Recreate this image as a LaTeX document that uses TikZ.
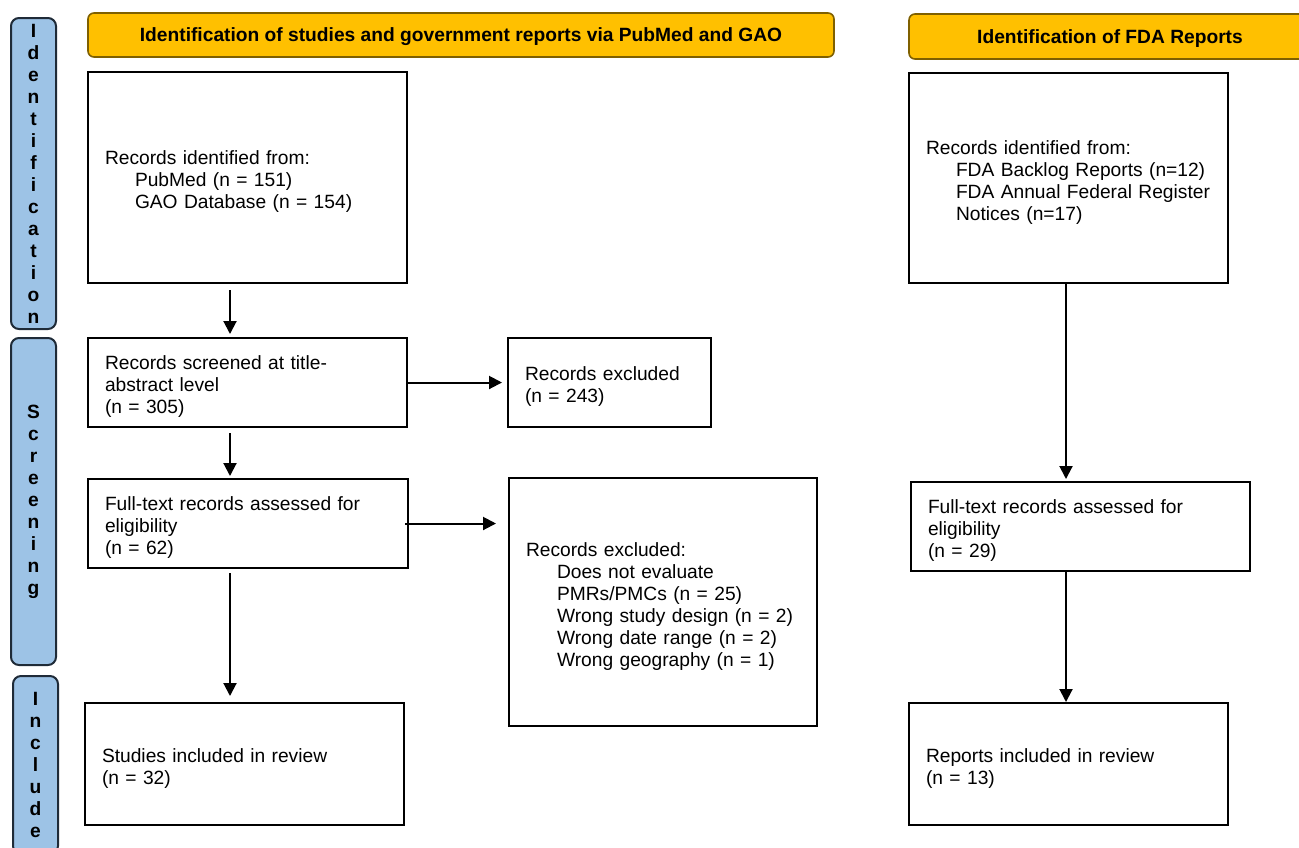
\documentclass[tikz,border=0pt]{standalone}
\usepackage{fontspec}
\setmainfont{Liberation Sans}
\usepackage{xcolor}
\usetikzlibrary{arrows.meta}
\definecolor{headfill}{HTML}{FFC000}
\definecolor{headline}{HTML}{7F6000}
\definecolor{tabfill}{HTML}{9DC3E6}
\definecolor{tabline}{HTML}{1F2B38}

\begin{document}
\begin{tikzpicture}[x=0.5pt,y=-0.5pt,>={Triangle[length=6.5pt,width=6.5pt]},
 font=\fontsize{9.6}{11}\selectfont,
 rec/.style={draw,line width=1pt,align=left,inner xsep=8.5pt,inner ysep=0pt,execute at begin node={\rule{0pt}{11pt}}},
 head/.style={draw=headline,fill=headfill,line width=0.8pt,rounded corners=3pt,text height=6.9pt,text depth=0pt,font=\fontsize{9.6}{11}\selectfont\bfseries},
 tab/.style={draw=tabline,fill=tabfill,line width=1pt,rounded corners=4pt,minimum width=22.5pt,align=center,inner sep=0pt,font=\fontsize{9.6}{11}\selectfont\bfseries},
 arr/.style={->,line width=1pt}]
 \useasboundingbox (0,0) rectangle (1299,847);
 \clip (0,0) rectangle (1299,847);
 % phase tabs
 \node[tab,minimum height=155.5pt] (tabid) at (33.5,173.5) {I\\d\\e\\n\\t\\i\\f\\i\\c\\a\\t\\i\\o\\n};
 \node[tab,minimum height=163.5pt] (tabscr) at (33.5,501.5) {S\\c\\r\\e\\e\\n\\i\\n\\g};
 \node[tab,minimum height=89pt] (tabinc) at (35.5,765) {I\\n\\c\\l\\u\\d\\e};
 % headers
 \node[head,minimum width=373pt,minimum height=22pt] (hdpm) at (461,35) {Identification of studies and government reports via PubMed and GAO};
 \node[head,minimum width=201pt,minimum height=22.5pt] (hdfda) at (1110,36.5) {Identification of FDA Reports};
 % PubMed / GAO column
 \node[rec,minimum width=159.5pt,minimum height=105.5pt,text width=142.5pt] (pmid) at (247.5,177.5)
  {Records identified from:\\\hspace*{15pt}PubMed (n = 151)\\\hspace*{15pt}GAO Database (n = 154)};
 \node[rec,minimum width=159.5pt,minimum height=44.5pt,text width=142.5pt] (pmscr) at (247.5,382.5)
  {Records screened at title-\\abstract level\\(n = 305)};
 \node[rec,minimum width=160pt,minimum height=44.5pt,text width=143pt] (pmft) at (248,523.5)
  {Full-text records assessed for\\eligibility\\(n = 62)};
 \node[rec,minimum width=159.5pt,minimum height=61pt,text width=142.5pt] (pmincl) at (244.5,764)
  {Studies included in review\\(n = 32)};
 \node[rec,minimum width=101.5pt,minimum height=44.5pt,text width=84.5pt] (pmexa) at (609.5,382.5)
  {Records excluded\\(n = 243)};
 \node[rec,minimum width=154pt,minimum height=124pt,text width=137pt] (pmexb) at (663,602)
  {Records excluded:\\\hspace*{15.5pt}Does not evaluate\\\hspace*{15.5pt}PMRs/PMCs (n = 25)\\\hspace*{15.5pt}Wrong study design (n = 2)\\\hspace*{15.5pt}Wrong date range (n = 2)\\\hspace*{15.5pt}Wrong geography (n = 1)};
 % FDA column
 \node[rec,minimum width=159.5pt,minimum height=105pt,text width=142.5pt] (fdaid) at (1068.5,178)
  {Records identified from:\\\hspace*{15pt}FDA Backlog Reports (n=12)\\\hspace*{15pt}FDA Annual Federal Register\\\hspace*{15pt}Notices (n=17)};
 \node[rec,minimum width=169.5pt,minimum height=44.5pt,text width=152.5pt] (fdaft) at (1080.5,526.5)
  {Full-text records assessed for\\eligibility\\(n = 29)};
 \node[rec,minimum width=159.5pt,minimum height=61pt,text width=142.5pt] (fdainc) at (1068.5,764)
  {Reports included in review\\(n = 13)};
 % connectors
 \coordinate (colL) at (230,0);
 \coordinate (colR) at (1066,0);
 \draw[arr] ([yshift=-3pt]pmid.south -| colL) -- ([yshift=1.5pt]pmscr.north -| colL);
 \draw[arr] ([yshift=-2.5pt]pmscr.south -| colL) -- ([yshift=1pt]pmft.north -| colL);
 \draw[arr] ([yshift=-2pt]pmft.south -| colL) -- ([yshift=3pt]pmincl.north -| colL);
 \draw[arr] (pmscr.east) -- ([xshift=-2.5pt]pmexa.west |- pmscr.east);
 \draw[arr] ([xshift=-2pt]pmft.east) -- ([xshift=-6pt]pmexb.west |- pmft.east);
 \draw[arr] (fdaid.south -| colR) -- ([yshift=1pt]fdaft.north -| colR);
 \draw[arr] (fdaft.south -| colR) -- (fdainc.north -| colR);
\end{tikzpicture}
\end{document}
